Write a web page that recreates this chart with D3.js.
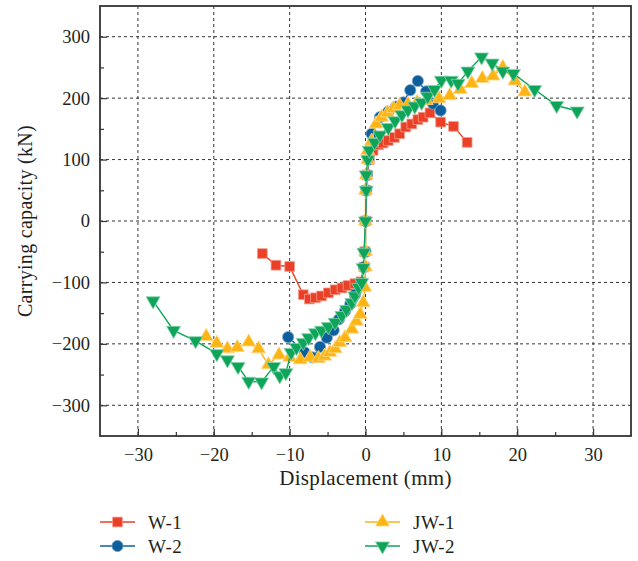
<!DOCTYPE html>
<html>
<head>
<meta charset="utf-8">
<script src="https://cdn.jsdelivr.net/npm/d3@7"></script>
<style>
  body { margin: 0; background: #fff; }
  text { font-family: "Liberation Serif", "DejaVu Serif", serif; fill: #231f20; }
</style>
</head>
<body>
<svg id="chart"></svg>
<script>
// skeleton curves (displacement mm, load kN)
const w1X = [-13.6, -11.8, -10.0, -8.2, -7.4, -6.6, -5.8, -4.9, -4.0, -3.1, -2.3, -1.4, -0.6, -0.2, -0.1, 0, 0.1, 0.2, 0.5, 1.0, 1.7, 2.3, 3.0, 3.8, 4.5, 5.3, 6.1, 6.9, 7.6, 8.5, 9.9, 11.6, 13.4];
const w1Y = [-53, -72, -74, -120, -127, -125, -122, -117, -112, -109, -105, -102, -99, -75, -50, 0, 50, 75, 100, 115, 124, 127, 131, 136, 142, 153, 158, 165, 169, 176, 161, 154, 128];

const w2X = [-10.2, -8.0, -7.0, -6.0, -5.1, -4.2, -3.5, -2.7, -2.0, -1.4, -0.6, -0.2, 0, 0, 0.1, 0.2, 0.4, 0.8, 1.9, 3.0, 4.0, 5.0, 5.9, 6.9, 8.0, 8.9, 9.9];
const w2Y = [-189, -214, -222, -205, -190, -178, -160, -147, -135, -120, -103, -75, -50, 0, 50, 75, 100, 142, 169, 178, 186, 193, 213, 228, 211, 191, 180];

const jw1X = [-21.0, -19.6, -18.2, -16.9, -15.4, -14.1, -12.8, -11.4, -10.0, -8.6, -7.3, -6.2, -5.4, -4.7, -4.0, -3.4, -2.7, -1.8, -1.2, -0.7, -0.3, -0.1, 0, 0, 0, 0, 0.1, 0.3, 0.3, 0.8, 1.4, 2.1, 2.9, 3.7, 4.5, 5.6, 6.8, 8.0, 9.7, 11.1, 12.5, 14.0, 15.4, 16.8, 18.1, 19.7, 21.0];
const jw1Y = [-188, -199, -208, -206, -197, -208, -234, -218, -222, -226, -222, -224, -220, -214, -208, -198, -190, -176, -163, -152, -133, -108, -75, -50, 0, 50, 75, 100, 115, 130, 158, 169, 176, 183, 188, 190, 193, 196, 199, 204, 214, 224, 232, 236, 250, 228, 210];

const jw2X = [-28.0, -25.3, -22.4, -19.6, -18.2, -16.8, -15.4, -13.7, -12.1, -11.3, -10.5, -9.8, -9.1, -8.2, -7.5, -6.6, -5.8, -4.9, -4.0, -3.1, -2.5, -1.8, -1.4, -0.9, -0.5, -0.3, -0.2, 0, 0.1, 0.1, 0.3, 0.5, 1.2, 1.9, 3.0, 3.9, 4.8, 5.6, 6.5, 7.4, 8.2, 9.1, 10.0, 11.3, 12.2, 13.5, 15.3, 16.7, 18.1, 19.5, 22.3, 25.2, 27.9];
const jw2Y = [-130, -178, -195, -216, -226, -237, -261, -262, -237, -252, -247, -214, -206, -198, -190, -182, -178, -172, -165, -154, -144, -133, -122, -108, -100, -76, -51, 0, 50, 75, 100, 115, 128, 140, 152, 163, 173, 181, 187, 193, 203, 214, 229, 229, 224, 244, 267, 257, 244, 240, 214, 188, 179];

const xTicks = [-30, -20, -10, 0, 10, 20, 30];
const yTicks = [-300, -200, -100, 0, 100, 200, 300];

const series = [
  { name: "W-1", xs: w1X, ys: w1Y, color: "#ea4027", edge: "#f59a8a", symbol: d3.symbolSquare, size: 95 },
  { name: "W-2", xs: w2X, ys: w2Y, color: "#0c5f9c", edge: "#7fa9c9", symbol: d3.symbolCircle, size: 100 },
  { name: "JW-1", xs: jw1X, ys: jw1Y, color: "#fdb515", edge: "#fed98a", symbol: d3.symbolTriangle, size: 85, rot: 0 },
  { name: "JW-2", xs: jw2X, ys: jw2Y, color: "#0ea55a", edge: "#86d2ac", symbol: d3.symbolTriangle, size: 85, rot: 180 }
];

const width = 638, height = 561;
const margin = { top: 6, right: 7, bottom: 125, left: 100 };
const plotW = width - margin.left - margin.right,
    plotH = height - margin.top - margin.bottom;

const svg = d3.select("#chart")
    .attr("width", width)
    .attr("height", height);

const g = svg.append("g")
    .attr("transform", `translate(${margin.left}, ${margin.top})`);

const xScale = d3.scaleLinear().domain([-35, 35]).range([0, plotW]);
const yScale = d3.scaleLinear().domain([-350, 350]).range([plotH, 0]);

// grid
g.append("g").selectAll("line")
    .data(xTicks)
    .enter().append("line")
    .attr("x1", d => xScale(d)).attr("x2", d => xScale(d))
    .attr("y1", 0).attr("y2", plotH)
    .attr("stroke", "#333").attr("stroke-width", 1)
    .attr("stroke-dasharray", "3,3");

g.append("g").selectAll("line")
    .data(yTicks)
    .enter().append("line")
    .attr("x1", 0).attr("x2", plotW)
    .attr("y1", d => yScale(d)).attr("y2", d => yScale(d))
    .attr("stroke", "#333").attr("stroke-width", 1)
    .attr("stroke-dasharray", "3,3");

// axes, ticks inward
const fmt = d => d3.format("")(d).replace("-", "\u2212");

const xAxis = d3.axisBottom(xScale)
    .tickValues(d3.range(-30, 31, 5))
    .tickSizeInner(-7).tickSizeOuter(0)
    .tickFormat(d => xTicks.includes(d) ? fmt(d) : "");
const xg = g.append("g")
    .attr("transform", `translate(0, ${plotH})`)
    .call(xAxis);
xg.selectAll(".tick line").attr("y2", d => xTicks.includes(d) ? -7 : -4);

const yAxis = d3.axisLeft(yScale)
    .tickValues(d3.range(-300, 301, 50))
    .tickSizeInner(-7).tickSizeOuter(0)
    .tickFormat(d => yTicks.includes(d) ? fmt(d) : "");
const yg = g.append("g").call(yAxis);
yg.selectAll(".tick line").attr("x2", d => yTicks.includes(d) ? 7 : 4);

[xg, yg].forEach(ax => {
    ax.select(".domain").remove();
    ax.selectAll(".tick line").attr("stroke", "#333").attr("stroke-width", 1.2);
    ax.selectAll("text")
        .style("font-size", "18.5px")
        .style("font-family", "'Liberation Serif', serif")
        .attr("fill", "#231f20");
});
xg.selectAll("text").attr("y", 12);
yg.selectAll("text").attr("x", -10);

// frame
g.append("rect")
    .attr("x", 0).attr("y", 0)
    .attr("width", plotW).attr("height", plotH)
    .attr("fill", "none")
    .attr("stroke", "#333").attr("stroke-width", 1.8);

// series
const line = d3.line().x(d => xScale(d[0])).y(d => yScale(d[1]));

series.forEach(s => {
    const pts = s.xs.map((x, i) => [x, s.ys[i]]);
    g.append("path")
        .datum(pts)
        .attr("d", line)
        .attr("fill", "none")
        .attr("stroke", s.color)
        .attr("stroke-width", 1.4);
    g.append("g").selectAll("path")
        .data(pts)
        .enter().append("path")
        .attr("d", d3.symbol().type(s.symbol).size(s.size))
        .attr("transform", d => `translate(${xScale(d[0])}, ${yScale(d[1])})` + (s.rot ? ` rotate(${s.rot})` : ""))
        .attr("fill", s.color)
        .attr("stroke", s.edge)
        .attr("stroke-width", 0.8);
});

// axis titles
svg.append("text")
    .attr("x", margin.left + plotW / 2)
    .attr("y", 485)
    .attr("text-anchor", "middle")
    .style("font-size", "21px")
    .style("letter-spacing", "0.3px")
    .text("Displacement (mm)");

svg.append("text")
    .attr("transform", `translate(32, ${margin.top + plotH / 2}) rotate(-90)`)
    .attr("text-anchor", "middle")
    .style("font-size", "20px")
    .style("letter-spacing", "0.3px")
    .text("Carrying capacity (kN)");

// legend
const legendPos = [[100, 522], [100, 546], [365, 522], [365, 546]];
series.forEach((s, i) => {
    const [lx, ly] = legendPos[i];
    const lg = svg.append("g").attr("transform", `translate(${lx}, ${ly})`);
    lg.append("line")
        .attr("x1", 0).attr("x2", 35)
        .attr("stroke", s.color).attr("stroke-width", 1.4);
    lg.append("path")
        .attr("d", d3.symbol().type(s.symbol).size(s.size))
        .attr("transform", `translate(17.5, 0)` + (s.rot ? ` rotate(${s.rot})` : ""))
        .attr("fill", s.color)
        .attr("stroke", s.edge)
        .attr("stroke-width", 0.8);
    lg.append("text")
        .attr("x", 48)
        .attr("y", 6.5)
        .style("font-size", "19px")
        .style("letter-spacing", "0.5px")
        .text(s.name);
});
</script>
</body>
</html>
